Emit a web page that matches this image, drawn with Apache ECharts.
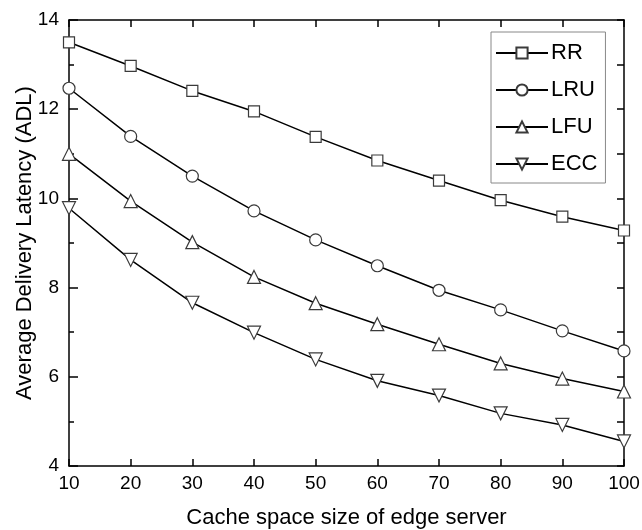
<!DOCTYPE html>
<html>
<head>
<meta charset="utf-8">
<script src="https://cdn.jsdelivr.net/npm/echarts@6/dist/echarts.min.js"></script>
<style>
  html, body { margin: 0; padding: 0; background: #fff; }
  #main { width: 642px; height: 530px; }
</style>
</head>
<body>
<div id="main"></div>
<script>
// cache sizes (x axis)
const cacheSizes = [10, 20, 30, 40, 50, 60, 70, 80, 90, 100];

// average delivery latency per strategy
const rrValues  = [13.5, 12.97, 12.41, 11.95, 11.38, 10.85, 10.40, 9.96, 9.59, 9.28];
const lruValues = [12.47, 11.39, 10.50, 9.72, 9.07, 8.49, 7.94, 7.50, 7.03, 6.58];
const lfuValues = [11.0, 9.94, 9.02, 8.24, 7.65, 7.18, 6.73, 6.30, 5.96, 5.67];
const eccValues = [9.78, 8.62, 7.66, 6.99, 6.39, 5.91, 5.58, 5.18, 4.92, 4.55];

const yTicks = [4, 6, 8, 10, 12, 14];

const font = 'Liberation Sans, Arial, sans-serif';
const chart = echarts.init(document.getElementById('main'));

function pairs(vals) {
  return cacheSizes.map((x, i) => [x, vals[i]]);
}

function makeSeries(name, vals, symbol, size) {
  return {
    name: name,
    type: 'line',
    data: pairs(vals),
    symbol: symbol,
    symbolSize: size,
    showAllSymbol: true,
    clip: true,
    lineStyle: { color: '#000', width: 1.5 },
    itemStyle: { color: '#fff', borderColor: '#3a3a3a', borderWidth: 1.2 },
    emphasis: { disabled: true },
    z: 3
  };
}

const tickStyle = { lineStyle: { color: '#000', width: 1.5 } };

chart.setOption({
  animation: false,
  backgroundColor: '#fff',
  grid: { left: 69, right: 18, top: 20, bottom: 64, outerBoundsMode: 'none', containLabel: false },
  legend: {
    left: 491, top: 32,
    orient: 'vertical',
    itemWidth: 52, itemHeight: 14, itemGap: 15,
    padding: [10, 8, 8, 4],
    borderColor: '#888', borderWidth: 1,
    backgroundColor: '#fff',
    textStyle: { fontFamily: font, fontSize: 22, color: '#000', padding: [0, 0, 0, -2] },
    data: ['RR', 'LRU', 'LFU', 'ECC']
  },
  xAxis: [{
    type: 'value',
    min: 10, max: 100, interval: 10,
    name: 'Cache space size of edge server',
    nameLocation: 'middle', nameGap: 41,
    nameMoveOverlap: false,
    nameTextStyle: { fontFamily: font, fontSize: 22, color: '#000' },
    axisLine: { onZero: false, lineStyle: { color: '#000', width: 1.5 } },
    axisTick: Object.assign({ inside: true, length: 7 }, tickStyle),
    axisLabel: { fontFamily: font, fontSize: 19, color: '#000', margin: 8 },
    splitLine: { show: false }
  }, {
    type: 'value', position: 'top',
    min: 10, max: 100, interval: 10,
    axisLine: { onZero: false, lineStyle: { color: '#000', width: 1.5 } },
    axisTick: Object.assign({ inside: true, length: 7 }, tickStyle),
    axisLabel: { show: false },
    splitLine: { show: false }
  }],
  yAxis: [{
    type: 'value',
    min: yTicks[0], max: yTicks[yTicks.length - 1], interval: 2,
    name: 'Average Delivery Latency (ADL)',
    nameLocation: 'middle', nameGap: 33,
    nameMoveOverlap: false,
    nameTextStyle: { fontFamily: font, fontSize: 22, color: '#000' },
    axisLine: { onZero: false, lineStyle: { color: '#000', width: 1.5 } },
    axisTick: Object.assign({ inside: true, length: 9 }, tickStyle),
    minorTick: { show: true, splitNumber: 2, length: 5, lineStyle: { color: '#000', width: 1.5 } },
    axisLabel: { fontFamily: font, fontSize: 19, color: '#000', margin: 10 },
    splitLine: { show: false },
    minorSplitLine: { show: false }
  }, {
    type: 'value', position: 'right',
    min: yTicks[0], max: yTicks[yTicks.length - 1], interval: 2,
    axisLine: { onZero: false, lineStyle: { color: '#000', width: 1.5 } },
    axisTick: Object.assign({ inside: true, length: 7 }, tickStyle),
    minorTick: { show: true, splitNumber: 2, length: 7, lineStyle: { color: '#000', width: 1.5 } },
    axisLabel: { show: false },
    splitLine: { show: false },
    minorSplitLine: { show: false }
  }],
  series: [
    makeSeries('RR', rrValues, 'rect', 11),
    makeSeries('LRU', lruValues, 'circle', 12),
    makeSeries('LFU', lfuValues, 'triangle', 13),
    makeSeries('ECC', eccValues, 'path://M0,0 L10,0 L5,9 Z', 13)
  ]
});
</script>
</body>
</html>
